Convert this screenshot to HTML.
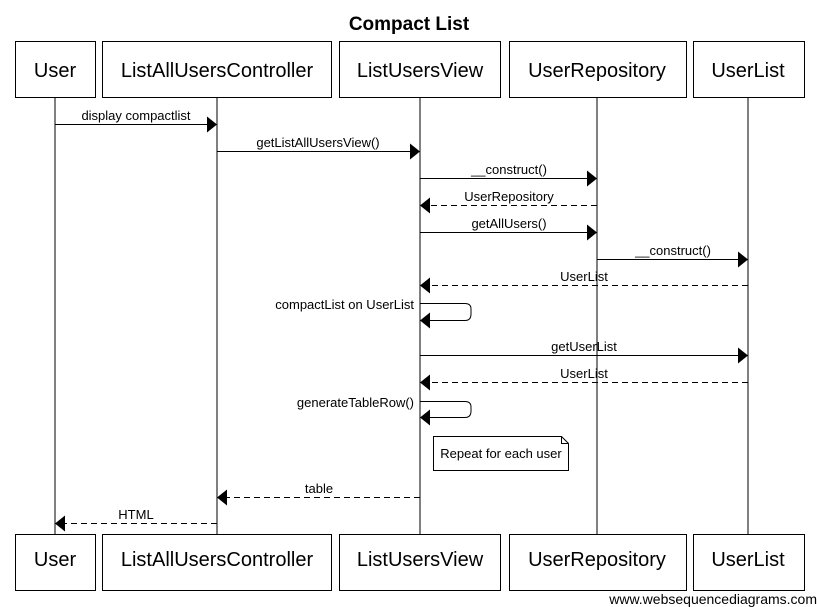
<!DOCTYPE html>
<html><head><meta charset="utf-8"><style>
html,body{margin:0;padding:0;background:#fff;}
svg{display:block;font-family:"Liberation Sans",sans-serif;}
</style></head><body>
<svg width="817" height="607" viewBox="0 0 817 607" xmlns="http://www.w3.org/2000/svg">
<defs>
<marker id="a" markerWidth="10" markerHeight="16" refX="10" refY="8" orient="auto" markerUnits="userSpaceOnUse"><path d="M0,0 L10,8 L0,16 Z" fill="#000"/></marker>
</defs>
<text x="409" y="30" font-size="19" font-weight="bold" text-anchor="middle">Compact List</text>
<g stroke="#000" stroke-width="1">
<line x1="55" y1="97" x2="55" y2="535"/>
<line x1="217" y1="97" x2="217" y2="535"/>
<line x1="420" y1="97" x2="420" y2="535"/>
<line x1="597" y1="97" x2="597" y2="535"/>
<line x1="748" y1="97" x2="748" y2="535"/>
</g>
<g fill="#fff" stroke="#000" stroke-width="1">
<rect x="15.5" y="41.5" width="80" height="56"/>
<rect x="102.5" y="41.5" width="229" height="56"/>
<rect x="339.5" y="41.5" width="161" height="56"/>
<rect x="509.5" y="41.5" width="177" height="56"/>
<rect x="693.5" y="41.5" width="111" height="56"/>
<rect x="15.5" y="534.5" width="80" height="56"/>
<rect x="102.5" y="534.5" width="229" height="56"/>
<rect x="339.5" y="534.5" width="161" height="56"/>
<rect x="509.5" y="534.5" width="177" height="56"/>
<rect x="693.5" y="534.5" width="111" height="56"/>
</g>
<g font-size="20" text-anchor="middle">
<text x="55" y="77">User</text><text x="217" y="77">ListAllUsersController</text><text x="420" y="77">ListUsersView</text><text x="597" y="77">UserRepository</text><text x="748" y="77">UserList</text>
<text x="55" y="566">User</text><text x="217" y="566">ListAllUsersController</text><text x="420" y="566">ListUsersView</text><text x="597" y="566">UserRepository</text><text x="748" y="566">UserList</text>
</g>
<g stroke="#000" stroke-width="1" fill="none" marker-end="url(#a)">
<line x1="55" y1="124.5" x2="217" y2="124.5"/>
<line x1="217" y1="151.5" x2="420" y2="151.5"/>
<line x1="420" y1="178.5" x2="597" y2="178.5"/>
<line x1="597" y1="205.5" x2="420" y2="205.5" stroke-dasharray="6,4"/>
<line x1="420" y1="232.5" x2="597" y2="232.5"/>
<line x1="597" y1="259.5" x2="748" y2="259.5"/>
<line x1="748" y1="285.5" x2="420" y2="285.5" stroke-dasharray="6,4"/>
<path d="M420,303.5 H465 Q471,303.5 471,309 V314 Q471,320.5 465,320.5 H420"/>
<line x1="420" y1="355.5" x2="748" y2="355.5"/>
<line x1="748" y1="382.5" x2="420" y2="382.5" stroke-dasharray="6,4"/>
<path d="M420,401.5 H465 Q471,401.5 471,407 V411 Q471,417.5 465,417.5 H420"/>
<line x1="420" y1="497.5" x2="217" y2="497.5" stroke-dasharray="6,4"/>
<line x1="217" y1="523.5" x2="55" y2="523.5" stroke-dasharray="6,4"/>
</g>
<path d="M433.5,436.5 H561.5 L568.5,443.5 V470.5 H433.5 Z M561.5,436.5 V443.5 H568.5" fill="#fff" stroke="#000"/>
<g font-size="13" text-anchor="middle">
<text x="136" y="120">display compactlist</text>
<text x="318" y="147">getListAllUsersView()</text>
<text x="509" y="174">__construct()</text>
<text x="509" y="201">UserRepository</text>
<text x="509" y="228">getAllUsers()</text>
<text x="673" y="255">__construct()</text>
<text x="584" y="281">UserList</text>
<text x="584" y="351">getUserList</text>
<text x="584" y="378">UserList</text>
<text x="319" y="493">table</text>
<text x="136" y="519">HTML</text>
<text x="501" y="458">Repeat for each user</text>
</g>
<g font-size="13" text-anchor="end">
<text x="414" y="309">compactList on UserList</text>
<text x="414" y="407">generateTableRow()</text>
</g>
<text x="817" y="604" font-size="14" text-anchor="end">www.websequencediagrams.com</text>
</svg>
</body></html>
